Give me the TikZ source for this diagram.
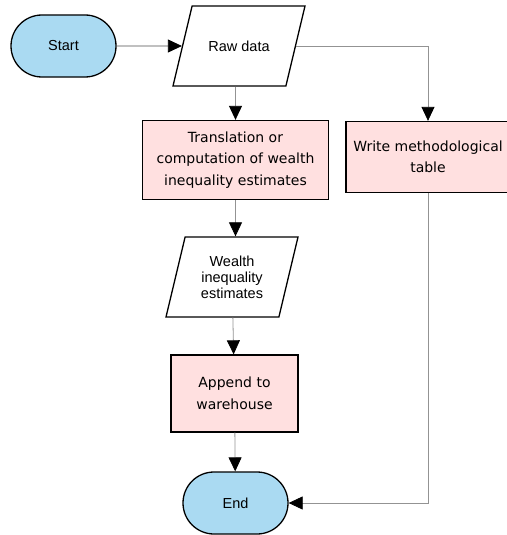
\documentclass[tikz,border=0pt]{standalone}
\usepackage{fontspec}
\setmainfont{Liberation Sans}
\newfontfamily\procfont{DejaVu Sans}
\usepackage{tikz}
\usetikzlibrary{shapes.geometric,arrows.meta}

\definecolor{termblue}{RGB}{170,218,242}
\definecolor{procpink}{RGB}{255,224,224}

\tikzset{
    terminal/.style={draw, line width=1.3pt, fill=termblue, rounded corners=31pt,
        minimum width=105pt, minimum height=62pt, font=\fontsize{14.5}{16}\selectfont},
    datanode/.style={draw, line width=1.3pt, fill=white, trapezium,
        trapezium left angle=76, trapezium right angle=104, trapezium stretches body=true,
        minimum width=132pt, minimum height=80pt, inner xsep=0pt, align=center,
        font=\fontsize{14.5}{16}\selectfont},
    process/.style={draw, line width=1.3pt, fill=procpink, align=center,
        font=\procfont\fontsize{14}{21.5}\selectfont},
    link/.style={draw=gray!85, line width=0.8pt,
        -{Triangle[width=13pt, length=14pt, color=black]}}
}

\begin{document}
\begin{tikzpicture}[x=1pt, y=-1pt]

    % Picture frame
    \useasboundingbox (0, 0) rectangle (506, 535);

    % Terminals
    \node[terminal] (start) at (63.5, 46) {Start};
    \node[terminal] (end) at (235.5, 503) {End};

    % Data (inner ysep fills the height, so the slant is right)
    \node[datanode, inner ysep=33pt] (raw) at (239, 46) {Raw data};
    \node[datanode, inner ysep=17pt] (wealth) at (232, 277) {Wealth\\inequality\\estimates};

    % Processes
    \node[process, minimum width=186pt, minimum height=79pt] (trans) at (235.5, 160)
        {Translation or\\computation of wealth\\inequality estimates};
    \node[process, minimum width=164pt, minimum height=71pt] (write) at (428, 157)
        {Write methodological\\table};
    \node[process, minimum width=127pt, minimum height=77pt] (append) at (234.5, 393.5)
        {Append to\\warehouse};

    % Connectors
    \draw[link, draw=gray!60!black] (start) -- (raw);
    \draw[link] (raw.south -| trans.north) -- (trans.north);
    \draw[link] (raw) -| (write);
    \draw[link] (trans.south) -- (trans.south |- wealth.north);
    \draw[link] (wealth) -- (append);
    \draw[link] (append) -- (end);
    \draw[link] (write) |- (end);
\end{tikzpicture}
\end{document}
